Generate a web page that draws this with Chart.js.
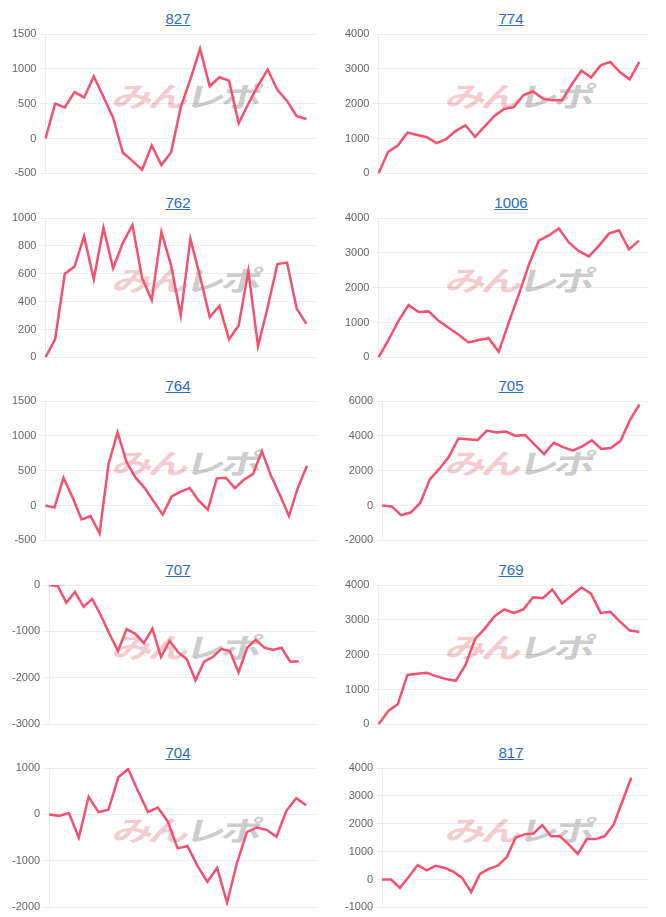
<!DOCTYPE html>
<html>
<head>
<meta charset="utf-8">
<script src="https://cdn.jsdelivr.net/npm/chart.js@4/dist/chart.umd.min.js"></script>
<style>
  html, body { margin: 0; padding: 0; background: #fff; }
  #grid { position: relative; width: 666px; height: 917px; }
  .cell { position: absolute; width: 333px; height: 183px; }
  .ttl { position: absolute; top: 10px; left: 23px; right: 0; text-align: center;
         font: 15px 'Liberation Sans', Arial, sans-serif; }
  .ttl a { color: #2a6cc7; text-decoration: underline; }
  .wm { position: absolute; left: 114px; top: 79px; width: 160px; height: 32px;
        font: bold 28px 'Noto Sans CJK JP', sans-serif; line-height: 32px; white-space: nowrap;
        transform: skewX(-14deg) scaleX(1.45); transform-origin: left center; letter-spacing: -3px; }
  .wm .a { color: rgba(225, 120, 132, 0.38); }
  .wm .b { color: rgba(130, 130, 130, 0.42); }
  .box { position: absolute; top: 22px; left: 0; width: 333px; height: 161px; }
</style>
</head>
<body>
<div id="grid"></div>
<script>
/* みんレポ - 収支グラフ 10台分 */

const titles = ['827', '774', '762', '1006', '764', '705', '707', '769', '704', '817'];

// 横軸の枠数（データより多い日数分）
const labelCounts = [29, 29, 29, 28, 31, 29, 32, 29, 28, 31];

// 縦軸の目盛り
const yMin  = [-500,    0,    0,    0, -500, -2000, -3000,    0, -2000, -1000];
const yMax  = [1500, 4000, 1000, 4000, 1500,  6000,     0, 4000,  1000,  4000];
const yStep = [ 500, 1000,  200, 1000,  500,  2000,  1000, 1000,  1000,  1000];

const s827 = [0, 500, 445, 665, 590, 890, 600, 300, -200, -320, -450, -100, -380, -200,
  450, 850, 1290, 750, 880, 830, 220, 500, 760, 990, 700, 540, 320, 280];
const s774 = [0, 620, 800, 1170, 1100, 1040, 870, 980, 1220, 1380, 1050, 1350, 1650, 1850,
  1900, 2250, 2350, 2150, 2100, 2100, 2550, 2950, 2750, 3100, 3200, 2900, 2700, 3200];
const s762 = [0, 130, 600, 650, 870, 560, 930, 640, 820, 950, 570, 410, 900, 660,
  300, 850, 580, 290, 370, 130, 230, 620, 80, 360, 670, 680, 350, 240];
const s1006 = [0, 500, 1050, 1500, 1300, 1320, 1050, 850, 650, 430, 500, 550, 160, 1000,
  1800, 2650, 3350, 3500, 3700, 3300, 3050, 2900, 3200, 3550, 3650, 3100, 3350];
const s764 = [0, -30, 400, 120, -200, -150, -400, 600, 1050, 620, 400, 250, 60, -130, 130,
  200, 250, 70, -60, 390, 400, 250, 370, 450, 780, 430, 150, -150, 260, 570];
const s705 = [0, -50, -550, -400, 150, 1500, 2100, 2800, 3850, 3800, 3750, 4300, 4200, 4250,
  4000, 4050, 3500, 2950, 3600, 3350, 3150, 3400, 3750, 3250, 3300, 3700, 4900, 5800];
const s707 = [0, -20, -380, -150, -470, -300, -650, -1050, -1420, -950, -1050, -1250, -940, -1550, -1200,
  -1450, -1600, -2050, -1650, -1550, -1380, -1420, -1880, -1350, -1180, -1350, -1400, -1350, -1650, -1640];
const s769 = [0, 380, 580, 1420, 1450, 1480, 1380, 1300, 1250, 1700, 2450, 2750, 3100, 3300,
  3200, 3300, 3650, 3620, 3870, 3470, 3700, 3930, 3750, 3200, 3230, 2950, 2700, 2650];
const s704 = [0, -30, 30, -500, 380, 50, 100, 800, 980, 500, 50, 150, -150, -730,
  -680, -1100, -1450, -1150, -1900, -1050, -380, -280, -330, -480, 80, 350, 200];
const s817 = [0, 0, -300, 100, 520, 330, 490, 420, 280, 60, -450, 200, 380, 500, 800,
  1500, 1620, 1650, 1950, 1550, 1550, 1250, 920, 1450, 1450, 1550, 1950, 2800, 3650];

const series = [s827, s774, s762, s1006, s764, s705, s707, s769, s704, s817];

Chart.defaults.font.family = "'Liberation Sans', Arial, sans-serif";
Chart.defaults.font.size = 11;
Chart.defaults.color = '#666';

const grid = document.getElementById('grid');

titles.forEach((t, i) => {
  const col = i % 2, row = Math.floor(i / 2);
  const cell = document.createElement('div');
  cell.className = 'cell';
  cell.style.left = (col * 333) + 'px';
  cell.style.top = (row * 183.5) + 'px';
  cell.innerHTML = `
    <div class="ttl"><a href="#">${t}</a></div>
    <div class="wm"><span class="a">みん</span><span class="b">レポ</span></div>
    <div class="box"><canvas></canvas></div>`;
  grid.appendChild(cell);

  const labels = Array.from({ length: labelCounts[i] }, (_, k) => String(k + 1));

  new Chart(cell.querySelector('canvas'), {
    type: 'line',
    data: {
      labels,
      datasets: [{
        data: series[i],
        borderColor: '#f5506d',
        borderWidth: 2.5,
        pointRadius: 0,
        tension: 0,
        fill: false
      }]
    },
    options: {
      responsive: true,
      maintainAspectRatio: false,
      animation: false,
      layout: { padding: { top: 12, bottom: 5, left: 9, right: 17 } },
      plugins: {
        legend: { display: false },
        tooltip: { enabled: false }
      },
      scales: {
        x: { display: false },
        y: {
          min: yMin[i],
          max: yMax[i],
          ticks: { stepSize: yStep[i], padding: 3, callback: v => String(v) },
          grid: { color: 'rgba(0,0,0,0.07)', tickLength: 6 },
          border: { color: 'rgba(0,0,0,0.07)' }
        }
      }
    }
  });
});
</script>
</body>
</html>
